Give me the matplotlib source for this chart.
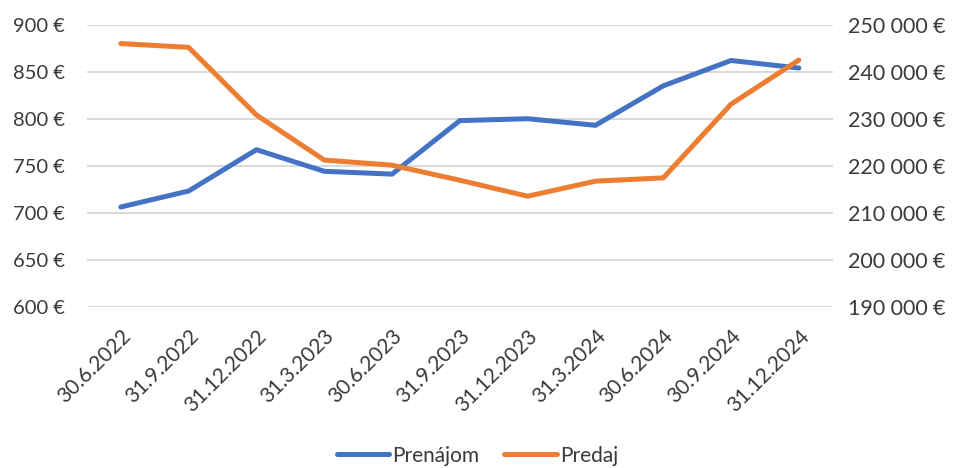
import matplotlib.pyplot as plt
from matplotlib.ticker import FuncFormatter

plt.rcParams['font.family'] = ['Lato', 'DejaVu Sans']

# data
dates = ['30.6.2022', '31.9.2022', '31.12.2022', '31.3.2023', '30.6.2023', '31.9.2023',
         '31.12.2023', '31.3.2024', '30.6.2024', '30.9.2024', '31.12.2024']
prenajom = [706, 723, 767, 744, 741, 798, 800, 793, 835, 862, 854]
predaj = [246000, 245200, 230800, 221200, 220100, 216900, 213500, 216700, 217400, 233100, 242500]

blue = '#4472C4'
orange = '#ED7D31'
txt = '#3a3a3a'
nsp = '\u202f'  # narrow space, as in the original labels

fig = plt.figure(figsize=(9.55, 4.68), dpi=100)
ax = fig.add_axes([0.091, 0.345, 0.781, 0.602])
ax2 = ax.twinx()

x = range(len(dates))
l1, = ax.plot(x, prenajom, color=blue, linewidth=3.6, solid_capstyle='round', label='Prenájom', zorder=3)
l2, = ax2.plot(x, predaj, color=orange, linewidth=3.6, solid_capstyle='round', label='Predaj', zorder=3)

ax.set_ylim(600, 900)
ax2.set_ylim(190000, 250000)
ax.set_yticks(range(600, 901, 50))
ax2.set_yticks(range(190000, 250001, 10000))
ax.set_xlim(-0.5, len(dates) - 0.5)

ax.yaxis.set_major_formatter(FuncFormatter(lambda v, p: f'{int(v)}{nsp}€'))
ax2.yaxis.set_major_formatter(FuncFormatter(lambda v, p: f'{int(v):,}{nsp}€'.replace(',', nsp)))

ax.set_xticks(list(x))
ax.set_xticklabels(dates, rotation=45, ha='right', rotation_mode='anchor', fontsize=15, color=txt)

ax.grid(axis='y', color='#D9D9D9', linewidth=1.4)
ax.set_axisbelow(True)
ax2.set_zorder(ax.get_zorder() + 1)
ax2.patch.set_visible(False)

for a in (ax, ax2):
    for s in a.spines.values():
        s.set_visible(False)
    a.tick_params(length=0, labelcolor=txt)
ax.tick_params(axis='x', pad=14)
ax.tick_params(axis='y', pad=16, labelsize=14.5)
ax2.tick_params(axis='y', pad=11, labelsize=15.5)

fig.legend(handles=[l1, l2], loc='lower center', ncol=2, frameon=False, fontsize=15,
           bbox_to_anchor=(0.5, -0.035), handlelength=2.5, handletextpad=0.15, columnspacing=1.2,
           labelcolor=txt)

fig.savefig('out.png', dpi=100)
